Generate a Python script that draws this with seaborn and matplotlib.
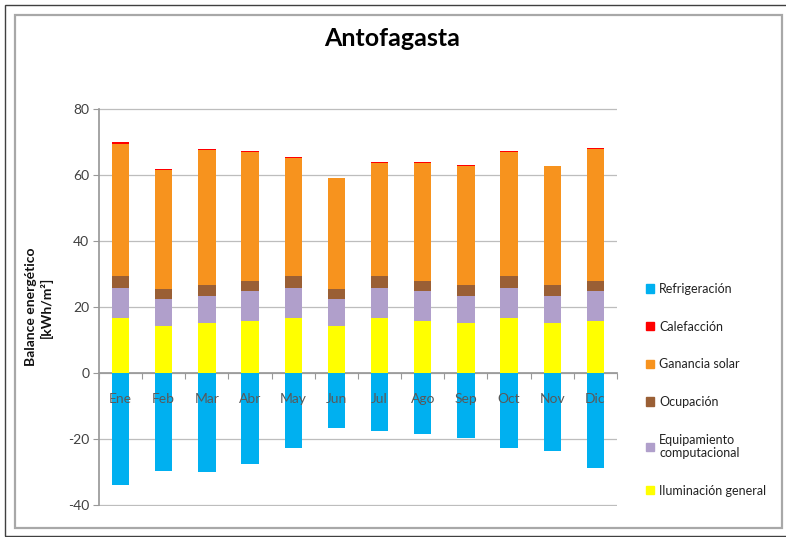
import matplotlib
matplotlib.use("Agg")
import matplotlib.pyplot as plt
import matplotlib.patches as mpatches
import seaborn as sns
import numpy as np

months = ["Ene", "Feb", "Mar", "Abr", "May", "Jun", "Jul", "Ago", "Sep", "Oct", "Nov", "Dic"]
iluminacion = [16.6, 14.4, 15.2, 15.7, 16.6, 14.4, 16.6, 15.7, 15.2, 16.6, 15.2, 15.7]
equipamiento = [9.1, 7.9, 8.2, 9.0, 9.1, 7.9, 9.1, 9.0, 8.2, 9.1, 8.2, 9.0]
ocupacion = [3.6, 3.0, 3.3, 3.3, 3.6, 3.0, 3.6, 3.3, 3.3, 3.6, 3.3, 3.3]
ganancia_solar = [40.1, 36.0, 40.9, 38.9, 35.9, 33.6, 34.3, 35.7, 36.0, 37.6, 35.9, 39.9]
calefaccion = [0.4, 0.5, 0.3, 0.2, 0.1, 0.2, 0.2, 0.2, 0.2, 0.2, 0.2, 0.2]
refrigeracion = [-33.8, -29.7, -30.0, -27.6, -22.6, -16.6, -17.6, -18.4, -19.7, -22.6, -23.6, -28.8]

series_labels = ["Refrigeración", "Calefacción", "Ganancia solar", "Ocupación",
                 "Equipamiento\ncomputacional", "Iluminación general"]
colors = {
    "Refrigeración": "#00B0F0",
    "Calefacción": "#FF0000",
    "Ganancia solar": "#F7931E",
    "Ocupación": "#9A5F35",
    "Equipamiento\ncomputacional": "#B09FCB",
    "Iluminación general": "#FFFF00",
}

sns.set_theme(style="white")
plt.rcParams["font.family"] = ["Lato", "DejaVu Sans"]
plt.rcParams["axes.unicode_minus"] = False

fig = plt.figure(figsize=(7.86, 5.37), dpi=100)
ax = fig.add_axes([99 / 786, 1 - 506 / 537, 518 / 786, 398 / 537])

pos_layers = [
    ("Iluminación general", iluminacion),
    ("Equipamiento\ncomputacional", equipamiento),
    ("Ocupación", ocupacion),
    ("Ganancia solar", ganancia_solar),
    ("Calefacción", calefaccion),
]
bottom = np.zeros(len(months))
for name, vals in pos_layers:
    sns.barplot(x=months, y=vals, bottom=bottom, color=colors[name], width=0.4,
                saturation=1, errorbar=None, linewidth=0, ax=ax, zorder=1)
    bottom = bottom + np.array(vals)
sns.barplot(x=months, y=refrigeracion, color=colors["Refrigeración"], width=0.4,
            saturation=1, errorbar=None, linewidth=0, ax=ax, zorder=1)

ax.set_xlim(-0.5, 11.5)
ax.set_ylim(-40.2, 80.2)
ax.set_yticks(np.arange(-40, 81, 20))
ax.set_axisbelow(True)
ax.yaxis.grid(True, color="#BDBDBD", linewidth=0.9)
ax.xaxis.grid(False)
ax.xaxis.set_zorder(3)

for s in ["top", "right"]:
    ax.spines[s].set_visible(False)
ax.spines["bottom"].set_position(("data", 0))
ax.spines["bottom"].set_color("#999999")
ax.spines["left"].set_color("#999999")
ax.spines["left"].set_bounds(-40, 80)
ax.spines["bottom"].set_zorder(0.6)

ax.set_xticks(range(len(months)))
ax.set_xticklabels(months)
ax.set_xticks(np.arange(-0.5, 12.0, 1.0), minor=True)
ax.tick_params(axis="x", which="major", length=0, pad=14, labelsize=10, labelcolor="#595959")
ax.tick_params(axis="x", which="minor", length=4, width=0.8, color="#999999", direction="out", bottom=True)
ax.tick_params(axis="y", which="major", length=4, width=0.8, color="#999999", direction="out",
               left=True, labelsize=10, labelcolor="#404040", pad=3)
ax.set_xlabel("")
ax.set_ylabel("Balance energético\n[kWh/m²]", fontsize=10, fontweight="bold", color="#111111",
              va="center", linespacing=1.3)
ax.yaxis.set_label_coords((39 - 99) / 518, 0.5)

fig.text(392 / 786, 1 - 39 / 537, "Antofagasta", ha="center", va="center",
         fontsize=18, fontweight="bold", color="#000000")

handles = [mpatches.Patch(color=colors[n], label=n) for n in series_labels]
leg = ax.legend(handles=handles, loc="upper left", bbox_to_anchor=(646 / 786, 1 - 283 / 537),
                bbox_transform=fig.transFigure, frameon=False, fontsize=9,
                handlelength=0.65, handleheight=0.65, handletextpad=0.4,
                labelspacing=2.05, borderpad=0, borderaxespad=0)
for t in leg.get_texts():
    t.set_color("#222222")
    t.set_linespacing(1.15)

# Chart frames
fig.patches.append(mpatches.Rectangle((5 / 786, 1 - 536 / 537), 790 / 786, 531 / 537,
                                      transform=fig.transFigure, fill=False,
                                      edgecolor="#404040", linewidth=1.0))
fig.patches.append(mpatches.Rectangle((15 / 786, 1 - 528 / 537), 767 / 786, 513 / 537,
                                      transform=fig.transFigure, fill=False,
                                      edgecolor="#A8A8A8", linewidth=1.6))

fig.savefig("out.png", dpi=100)
